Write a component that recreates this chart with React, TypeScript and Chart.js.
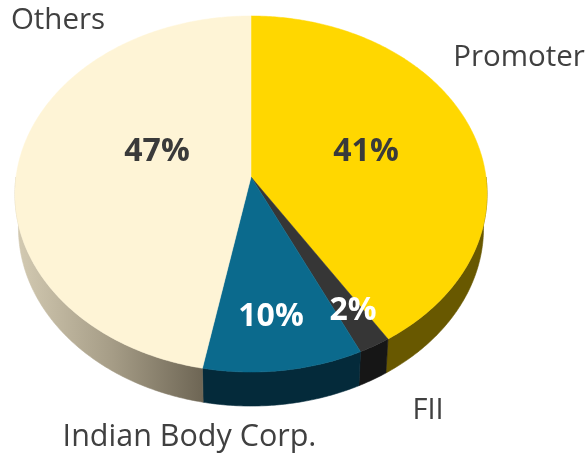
import React, { useEffect, useRef } from "react";
import { Chart, registerables } from "chart.js";

Chart.register(...registerables);

const categories = ["Promoter", "FII", "Indian Body Corp.", "Others"];
const shares = [41, 2, 10, 47];
const topColors = ["#FFD700", "#363636", "#0B6A8D", "#FEF4D6"];
const sideColors = ["#685800", "#161616", "#042A3A", "#8F8670"];

// label anchors (centre x, baseline y) and sizes - layout only
const namePlacement = [
  [519, 66],
  [428, 419],
  [189.5, 446],
  [58, 29],
];
const nameSizes = [29.5, 29, 30.5, 29.5];
const valuePlacement = [
  [366, 161],
  [353, 320],
  [271, 326],
  [157, 161],
];
const valueColors = ["#3A3A3A", "#FFFFFF", "#FFFFFF", "#3A3A3A"];

// perspective of the tilted disc
const persp = -0.0955;
const scaleX = 235;
const scaleY = 176.4;
const depth = 34;
const bottomShrink = 0.985;

function project(el: any, angle: number, lower: boolean) {
  const u = Math.cos(angle);
  const v = Math.sin(angle);
  const d = 1 + persp * v;
  const k = lower ? bottomShrink : 1;
  return [el.x + (scaleX * u * k) / d, el.y + (scaleY * v) / d + (lower ? depth : 0)];
}

function arcPoints(el: any, from: number, to: number, lower: boolean) {
  const n = Math.max(2, Math.ceil(Math.abs(to - from) / 0.01));
  const pts: number[][] = [];
  for (let i = 0; i <= n; i++) pts.push(project(el, from + ((to - from) * i) / n, lower));
  return pts;
}

const disc3d = {
  id: "disc3d",
  beforeDatasetDraw(chart: any) {
    const ctx: CanvasRenderingContext2D = chart.ctx;
    const arcs = chart.getDatasetMeta(0).data;
    ctx.save();
    // walls: only the near half of the rim is visible
    arcs.forEach((el: any, i: number) => {
      const from = Math.max(el.startAngle, 0);
      const to = Math.min(el.endAngle, Math.PI);
      if (to <= from) return;
      const upper = arcPoints(el, from, to, false);
      const lowerPts = arcPoints(el, to, from, true);
      ctx.beginPath();
      [...upper, ...lowerPts].forEach((p, j) => (j ? ctx.lineTo(p[0], p[1]) : ctx.moveTo(p[0], p[1])));
      ctx.closePath();
      let fill: any = sideColors[i];
      if (i === 3) {
        const g = ctx.createLinearGradient(el.x - 232, 0, el.x - 44, 0);
        g.addColorStop(0, "#D2C9B1");
        g.addColorStop(0.5, "#A59C86");
        g.addColorStop(1, "#6B6352");
        fill = g;
      }
      ctx.fillStyle = fill;
      ctx.strokeStyle = fill;
      ctx.lineWidth = 0.6;
      ctx.fill();
      ctx.stroke();
    });
    // top face
    arcs.forEach((el: any, i: number) => {
      const pts = arcPoints(el, el.startAngle, el.endAngle, false);
      ctx.beginPath();
      ctx.moveTo(el.x, el.y);
      pts.forEach((p) => ctx.lineTo(p[0], p[1]));
      ctx.closePath();
      ctx.fillStyle = topColors[i];
      ctx.strokeStyle = topColors[i];
      ctx.lineWidth = 0.5;
      ctx.fill();
      ctx.stroke();
    });
    ctx.restore();
    return false;
  },
  afterDatasetsDraw(chart: any) {
    const ctx: CanvasRenderingContext2D = chart.ctx;
    ctx.save();
    ctx.textAlign = "center";
    ctx.textBaseline = "alphabetic";
    ctx.fillStyle = "#404040";
    categories.forEach((c, i) => {
      ctx.font = `400 ${nameSizes[i]}px "Open Sans"`;
      ctx.fillText(c, namePlacement[i][0], namePlacement[i][1]);
    });
    ctx.font = '700 32px "Open Sans"';
    shares.forEach((s, i) => {
      ctx.fillStyle = valueColors[i];
      ctx.fillText(`${s}%`, valuePlacement[i][0], valuePlacement[i][1]);
    });
    ctx.restore();
  },
};

export default function App() {
  const ref = useRef<HTMLCanvasElement>(null);
  useEffect(() => {
    document.body.style.margin = "0";
    const chart = new Chart(ref.current!, {
      type: "pie",
      data: {
        labels: categories,
        datasets: [{ data: shares, backgroundColor: topColors, borderWidth: 0 }],
      },
      options: {
        responsive: false,
        animation: false,
        layout: { padding: { left: 15, right: 101, top: 0, bottom: 99 } },
        plugins: { legend: { display: false }, tooltip: { enabled: false } },
      },
      plugins: [disc3d],
    } as any);
    return () => chart.destroy();
  }, []);
  return <canvas ref={ref} width={588} height={453} style={{ display: "block" }} />;
}
